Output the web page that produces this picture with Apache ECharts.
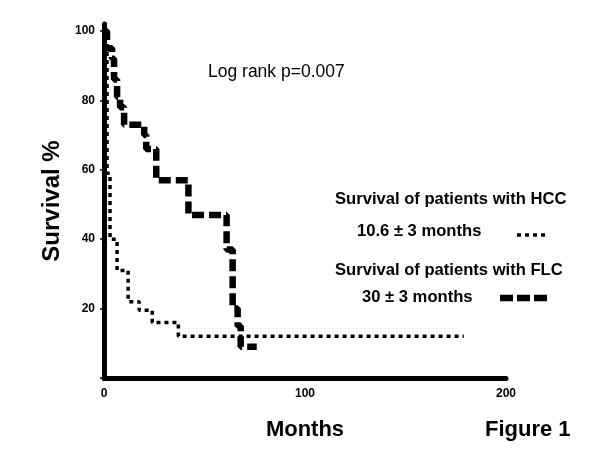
<!DOCTYPE html>
<html>
<head>
<meta charset="utf-8">
<script src="https://cdn.jsdelivr.net/npm/echarts@6/dist/echarts.min.js"></script>
<style>html,body{margin:0;padding:0;background:#fff}#c{width:600px;height:450px}</style>
</head>
<body>
<div id="c"></div>
<script>
// Kaplan-Meier step points [month, survival %]
const hccMonths = [0, 1.5, 3, 6.5, 12, 17.5, 24, 37, 179];
const hccSurvival = [100, 59, 40, 31, 22, 19.5, 16, 12, 12];
const flcMonths = [0, 1.5, 4, 5, 6.5, 8, 10, 20, 21, 26, 42, 61, 64, 66.5, 68, 76];
const flcSurvival = [100, 95, 92, 86, 81, 78, 73, 70, 66, 57, 47, 37, 20, 15, 9, 9];
const yTicks = [20, 40, 60, 80, 100];
const xTicks = [0, 100, 200];

const FONT = '"Liberation Sans", Arial, sans-serif';
const chart = echarts.init(document.getElementById('c'), null, {renderer: 'canvas'});

chart.setOption({
  animation: false,
  backgroundColor: '#fff',
  grid: {left: 104, right: 94, top: 24, bottom: 72, containLabel: false},
  xAxis: {
    type: 'value', min: 0, max: 200, interval: 100,
    name: 'Months', nameLocation: 'middle', nameGap: 41,
    nameTextStyle: {fontFamily: FONT, fontSize: 22, fontWeight: 'bold', color: '#000'},
    axisLine: {show: true, lineStyle: {color: '#000', width: 5}},
    axisTick: {show: false},
    splitLine: {show: false},
    axisLabel: {
      fontFamily: FONT, fontSize: 12, fontWeight: 'bold', color: '#000', margin: 10,
      formatter: v => xTicks.includes(v) ? String(v) : ''
    }
  },
  yAxis: {
    type: 'value', min: 0, max: 102, interval: 20,
    name: 'Survival %', nameLocation: 'middle', nameGap: 40, nameRotate: 90,
    nameTextStyle: {fontFamily: FONT, fontSize: 24, fontWeight: 'bold', color: '#000'},
    axisLine: {show: true, lineStyle: {color: '#000', width: 5}},
    axisTick: {show: true, length: 4, lineStyle: {color: '#000', width: 1.5}},
    splitLine: {show: false},
    axisLabel: {
      fontFamily: FONT, fontSize: 12, fontWeight: 'bold', color: '#000', margin: 9,
      showMaxLabel: false,
      formatter: v => yTicks.includes(v) ? String(v) : ''
    }
  },
  series: [
    {
      name: 'HCC', type: 'line', step: 'end', symbol: 'none', clip: false,
      data: hccMonths.map((m, i) => [m, hccSurvival[i]]),
      lineStyle: {color: '#000', width: 3.5, type: [4, 4], cap: 'butt'}
    },
    {
      name: 'FLC', type: 'line', step: 'end', symbol: 'none', clip: false,
      data: flcMonths.map((m, i) => [m, flcSurvival[i]]),
      lineStyle: {color: '#000', width: 6.5, type: [12, 5], cap: 'butt'}
    }
  ],
  graphic: [
    {type: 'text', left: 208, top: 63, style: {text: 'Log rank p=0.007', font: 'normal 17.5px ' + FONT, fill: '#000'}},
    {type: 'text', left: 335, top: 191, style: {text: 'Survival of patients with HCC', font: 'bold 16.6px ' + FONT, fill: '#000'}},
    {type: 'text', left: 357, top: 223, style: {text: '10.6 \u00b1 3 months', font: 'bold 16.6px ' + FONT, fill: '#000'}},
    {type: 'line', shape: {x1: 517, y1: 235, x2: 549, y2: 235}, style: {stroke: '#000', lineWidth: 3.5, lineDash: [4, 4]}},
    {type: 'text', left: 335, top: 262, style: {text: 'Survival of patients with FLC', font: 'bold 16.6px ' + FONT, fill: '#000'}},
    {type: 'text', left: 362, top: 289, style: {text: '30 \u00b1 3 months', font: 'bold 16.6px ' + FONT, fill: '#000'}},
    {type: 'line', shape: {x1: 500, y1: 298, x2: 547, y2: 298}, style: {stroke: '#000', lineWidth: 6.5, lineDash: [13, 4]}},
    {type: 'text', left: 485, top: 419, style: {text: 'Figure 1', font: 'bold 22px ' + FONT, fill: '#000'}}
  ]
});
</script>
</body>
</html>
